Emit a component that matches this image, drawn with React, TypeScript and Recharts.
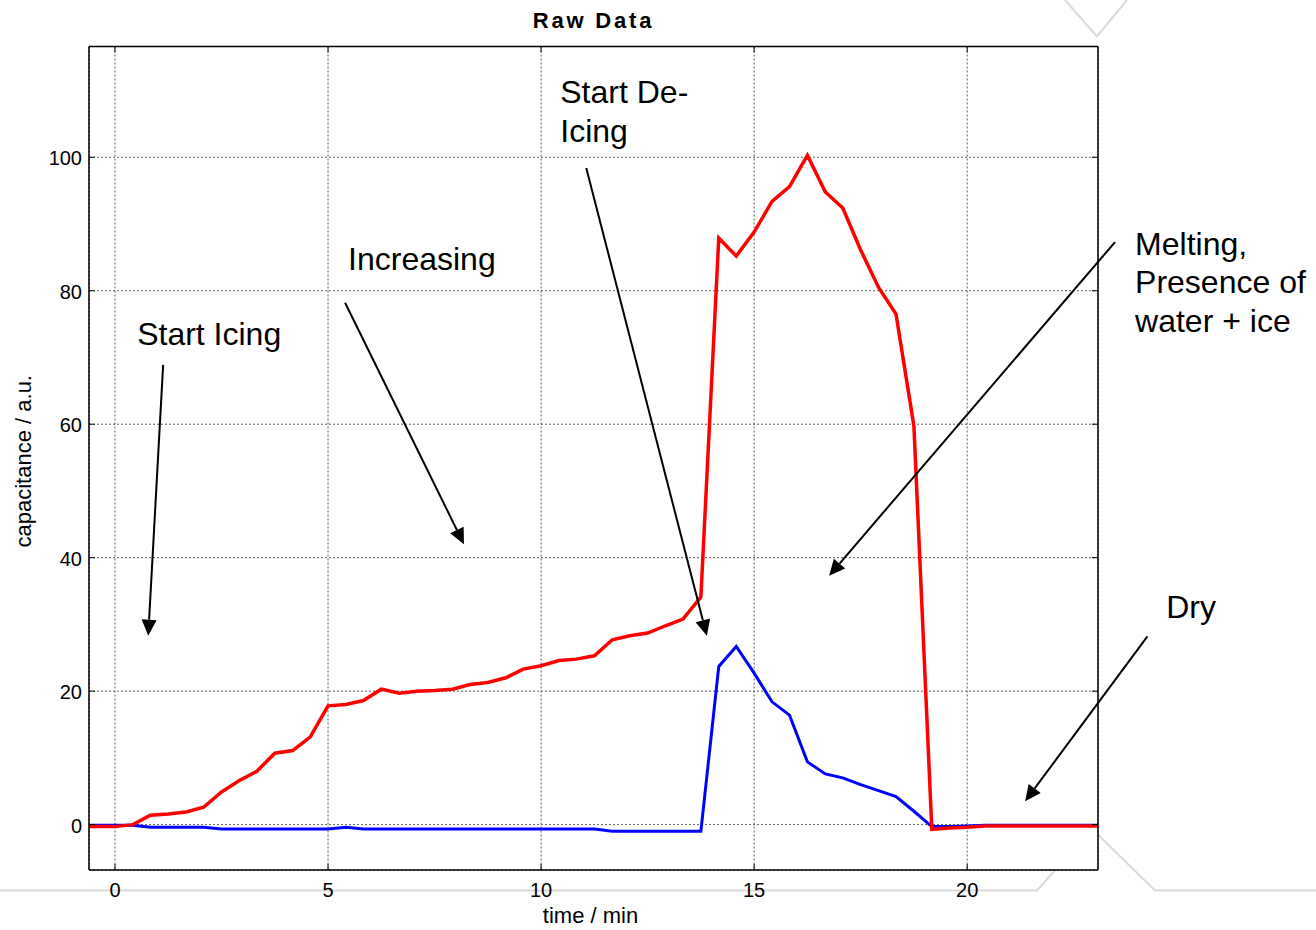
import React from "react";
import { CartesianGrid, Label, Line, LineChart, ReferenceDot, ReferenceLine, XAxis, YAxis } from "recharts";

// Raw capacitance trace of an icing / de-icing run (one reading every 25 s).
const FONT = '"Liberation Sans", Arial, Helvetica, sans-serif';

const timeMin = [
  -0.83, -0.42, 0, 0.42, 0.83, 1.25, 1.67, 2.08, 2.5, 2.92, 3.33, 3.75, 4.17, 4.58, 5, 5.42, 5.83, 6.25,
  6.67, 7.08, 7.5, 7.92, 8.33, 8.75, 9.17, 9.58, 10, 10.42, 10.83, 11.25, 11.67, 12.08, 12.5, 12.92, 13.33,
  13.75, 14.17, 14.58, 15, 15.42, 15.83, 16.25, 16.67, 17.08, 17.5, 17.92, 18.33, 18.75, 19.17, 19.58, 20,
  20.42, 20.83, 21.25, 21.67, 22.08, 22.5, 22.92, 23.33,
];

const redTrace = [
  -0.3, -0.3, -0.3, 0.0, 1.4, 1.6, 1.9, 2.6, 4.9, 6.6, 8.0, 10.7, 11.1, 13.1, 17.8, 18.0, 18.6, 20.3, 19.7,
  20.0, 20.1, 20.3, 21.0, 21.3, 22.0, 23.3, 23.8, 24.6, 24.8, 25.3, 27.7, 28.3, 28.7, 29.8, 30.8, 34.1, 87.9,
  85.2, 88.8, 93.4, 95.6, 100.3, 94.8, 92.4, 86.1, 80.5, 76.5, 59.7, -0.7, -0.5, -0.4, -0.2, -0.2, -0.2, -0.2,
  -0.2, -0.2, -0.2, -0.2,
];

const blueTrace = [
  -0.1, -0.1, -0.1, -0.1, -0.4, -0.4, -0.4, -0.4, -0.65, -0.65, -0.65, -0.65, -0.65, -0.65, -0.65, -0.4,
  -0.65, -0.65, -0.65, -0.65, -0.65, -0.65, -0.65, -0.65, -0.65, -0.65, -0.65, -0.65, -0.65, -0.65, -1.0,
  -1.0, -1.0, -1.0, -1.0, -1.0, 23.7, 26.7, 22.7, 18.4, 16.4, 9.4, 7.6, 7.0, 6.0, 5.1, 4.2, 2.0, -0.3, -0.3,
  -0.2, -0.1, -0.1, -0.1, -0.1, -0.1, -0.1, -0.1, -0.1,
];

const xTicks = [0, 5, 10, 15, 20];
const yTicks = [0, 20, 40, 60, 80, 100];
const xDomain = [-0.61, 23.07];
const yDomain = [-6.8, 116.6];

// annotation text (left edge / first baseline, in data units)
const notes = [
  { x: 0.52, y: 71.8, lines: ["Start Icing"] },
  { x: 5.47, y: 83.1, lines: ["Increasing"] },
  { x: 10.45, y: 108.1, lines: ["Start De-", "Icing"] },
  { x: 23.94, y: 85.4, lines: ["Melting,", "Presence of", "water + ice"] },
  { x: 24.67, y: 31.0, lines: ["Dry"] },
];

// arrows: tail -> head, in data units
const arrows = [
  { x1: 1.13, y1: 68.9, x2: 0.78, y2: 28.3 },
  { x1: 5.4, y1: 78.2, x2: 8.19, y2: 42.0 },
  { x1: 11.06, y1: 98.4, x2: 13.89, y2: 28.3 },
  { x1: 23.47, y1: 87.3, x2: 16.76, y2: 37.3 },
  { x1: 24.23, y1: 28.2, x2: 21.36, y2: 3.5 },
];

const rows = timeMin.map((t, i) => ({ t, red: redTrace[i], blue: blueTrace[i] }));

const BottomTick = ({ x, y, payload }: any) => (
  <g>
    <line x1={x} y1={y} x2={x} y2={y - 6} stroke="#000" />
    <text x={x} y={y + 27} textAnchor="middle" fontSize={20} fontFamily={FONT} fill="#000">
      {payload.value}
    </text>
  </g>
);
const TopTick = ({ x, y }: any) => <line x1={x} y1={y} x2={x} y2={y + 6} stroke="#000" />;
const LeftTick = ({ x, y, payload }: any) => (
  <g>
    <line x1={x} y1={y} x2={x + 6} y2={y} stroke="#000" />
    <text x={x - 7} y={y + 8} textAnchor="end" fontSize={20} fontFamily={FONT} fill="#000">
      {payload.value}
    </text>
  </g>
);
const RightTick = ({ x, y }: any) => <line x1={x} y1={y} x2={x - 6} y2={y} stroke="#000" />;

function Arrow({ x1, y1, x2, y2 }: any) {
  const len = Math.hypot(x2 - x1, y2 - y1) || 1;
  const ux = (x2 - x1) / len;
  const uy = (y2 - y1) / len;
  const bx = x2 - ux * 16;
  const by = y2 - uy * 16;
  const pts = `${x2},${y2} ${bx - uy * 7.5},${by + ux * 7.5} ${bx + uy * 7.5},${by - ux * 7.5}`;
  return (
    <g>
      <line x1={x1} y1={y1} x2={bx} y2={by} stroke="#000" strokeWidth={2} />
      <polygon points={pts} fill="#000" />
    </g>
  );
}

const noteShape = (lines: string[]) => (p: any) => (
  <text x={p.cx} y={p.cy} fontSize={32} fontFamily={FONT} fill="#000">
    {lines.map((s, i) => (
      <tspan key={i} x={p.cx} dy={i === 0 ? 0 : 38.5}>
        {s}
      </tspan>
    ))}
  </text>
);

export default function App() {
  return (
    <div style={{ position: "absolute", left: 0, top: 0, width: 1316, height: 930, background: "#fff" }}>
      {/* faint slide-template strokes behind the figure */}
      <svg width={1316} height={930} style={{ position: "absolute", left: 0, top: 0 }}>
        <g fill="none" stroke="#dadada" strokeWidth={2}>
          <polyline points="1065,0 1097,36.5 1127,0" />
          <polyline points="0,890.5 1037,890.5 1075,848" />
          <polyline points="1085,822 1155,890.5 1316,890.5" />
        </g>
      </svg>
      <div style={{ position: "absolute", left: 0, top: 0 }}>
        <LineChart width={1316} height={930} data={rows} margin={{ top: 36, right: 208, bottom: 0, left: 0 }}>
          <CartesianGrid
            xAxisId="b"
            yAxisId="l"
            stroke="#5a5a5a"
            strokeDasharray="2 2"
            fill="#fff"
            fillOpacity={1}
          />
          <XAxis
            xAxisId="b"
            dataKey="t"
            type="number"
            domain={xDomain}
            ticks={xTicks}
            allowDataOverflow
            height={60}
            tickSize={0}
            tickMargin={0}
            tickLine={false}
            axisLine={{ stroke: "#000", strokeWidth: 1.5 }}
            tick={<BottomTick />}
            interval={0}
          >
            <Label
              content={({ viewBox }: any) => (
                <text
                  x={viewBox.x + viewBox.width / 2 - 3}
                  y={viewBox.y + 53}
                  textAnchor="middle"
                  fontSize={22}
                  fontFamily={FONT}
                  fill="#000"
                >
                  time / min
                </text>
              )}
            />
          </XAxis>
          <XAxis
            xAxisId="t"
            orientation="top"
            dataKey="t"
            type="number"
            domain={xDomain}
            ticks={xTicks}
            allowDataOverflow
            height={10.5}
            tickSize={0}
            tickMargin={0}
            tickLine={false}
            axisLine={{ stroke: "#000", strokeWidth: 1.5 }}
            tick={<TopTick />}
            interval={0}
          >
            <Label
              content={({ viewBox }: any) => (
                <text
                  x={viewBox.x + viewBox.width / 2}
                  y={28}
                  textAnchor="middle"
                  fontSize={22}
                  fontWeight="bold"
                  letterSpacing={2.8}
                  fontFamily={FONT}
                  fill="#000"
                >
                  Raw Data
                </text>
              )}
            />
          </XAxis>
          <YAxis
            yAxisId="l"
            type="number"
            domain={yDomain}
            ticks={yTicks}
            allowDataOverflow
            width={89}
            tickSize={0}
            tickMargin={0}
            tickLine={false}
            axisLine={{ stroke: "#000", strokeWidth: 1.5 }}
            tick={<LeftTick />}
            interval={0}
          >
            <Label
              content={({ viewBox }: any) => {
                const cy = viewBox.y + viewBox.height / 2 + 3;
                return (
                  <text
                    x={31}
                    y={cy}
                    transform={`rotate(-90 31 ${cy})`}
                    textAnchor="middle"
                    fontSize={22}
                    fontFamily={FONT}
                    fill="#000"
                  >
                    capacitance / a.u.
                  </text>
                );
              }}
            />
          </YAxis>
          <YAxis
            yAxisId="r"
            orientation="right"
            type="number"
            domain={yDomain}
            ticks={yTicks}
            allowDataOverflow
            width={10}
            tickSize={0}
            tickMargin={0}
            tickLine={false}
            axisLine={{ stroke: "#000", strokeWidth: 1.5 }}
            tick={<RightTick />}
            interval={0}
          />
          <Line
            xAxisId="b"
            yAxisId="l"
            type="linear"
            dataKey="blue"
            stroke="#0000ff"
            strokeWidth={3}
            dot={false}
            isAnimationActive={false}
          />
          <Line
            xAxisId="b"
            yAxisId="l"
            type="linear"
            dataKey="red"
            stroke="#ff0000"
            strokeWidth={3.5}
            dot={false}
            isAnimationActive={false}
          />
          {arrows.map((a, i) => (
            <ReferenceLine
              key={`a${i}`}
              xAxisId="b"
              yAxisId="l"
              ifOverflow="visible"
              segment={[
                { x: a.x1, y: a.y1 },
                { x: a.x2, y: a.y2 },
              ]}
              shape={(p: any) => <Arrow {...p} />}
            />
          ))}
          {notes.map((n, i) => (
            <ReferenceDot
              key={`n${i}`}
              xAxisId="b"
              yAxisId="l"
              x={n.x}
              y={n.y}
              r={0}
              ifOverflow="visible"
              shape={noteShape(n.lines)}
            />
          ))}
        </LineChart>
      </div>
    </div>
  );
}
